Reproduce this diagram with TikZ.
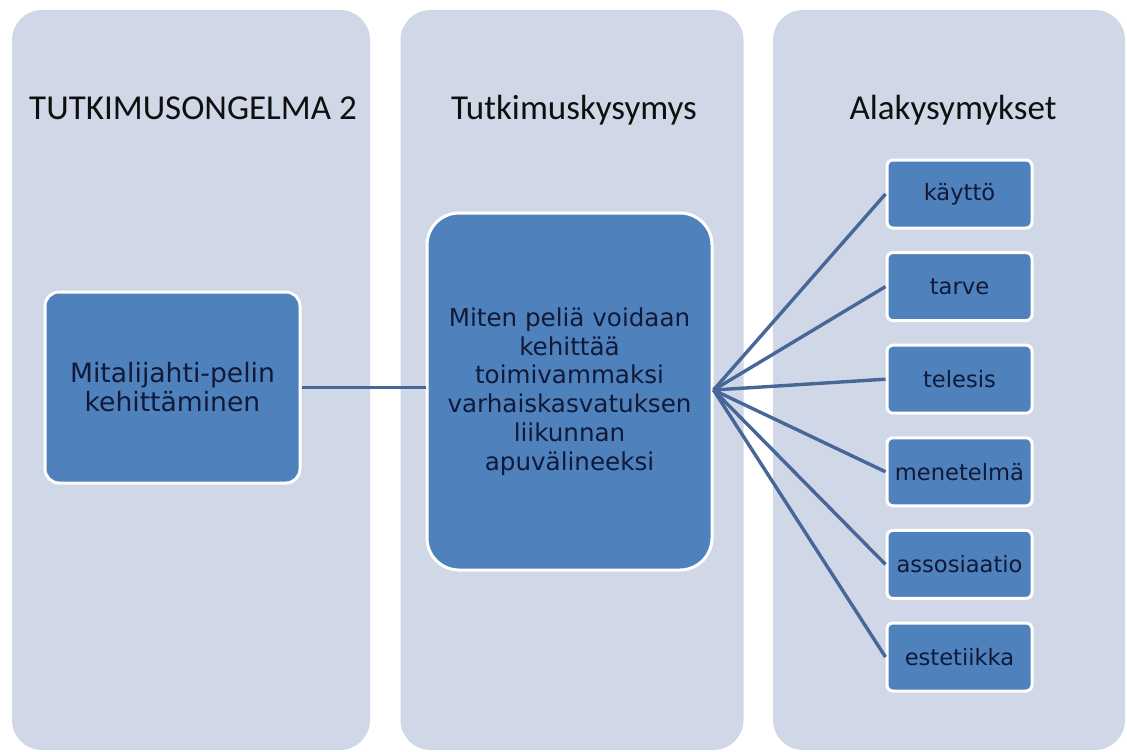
\documentclass[tikz,border=0pt]{standalone}
\usepackage{fontspec}
\setmainfont{DejaVu Sans}
\newfontfamily\headfont{Carlito}
\definecolor{panelbg}{RGB}{208,216,232}
\definecolor{boxfill}{RGB}{79,129,189}
\definecolor{linkcol}{RGB}{70,103,152}
\definecolor{boxtext}{RGB}{16,26,56}
\definecolor{headtext}{RGB}{15,15,15}
\tikzset{
  panel/.style={fill=panelbg, draw=none, rounded corners=30pt, inner sep=0pt},
  head/.style={font=\headfont\fontsize{35}{40}\selectfont, text=headtext, anchor=base, inner sep=0pt},
  bluebox/.style={fill=boxfill, draw=white, line width=3pt, text=boxtext, align=center, inner sep=0pt},
  subbox/.style={bluebox, rounded corners=6pt, minimum width=145pt, minimum height=68pt,
    font=\fontsize{22.6}{26}\selectfont},
  link/.style={draw=linkcol, line width=3.4pt}
}
\begin{document}
\begin{tikzpicture}[x=1pt,y=-1pt]
\useasboundingbox (0,0) rectangle (1127,752);
\fill[white] (0,0) rectangle (1127,752);

% three background panels
\node[panel, minimum width=358pt, minimum height=740pt] (p1) at (191,380) {};
\node[panel, minimum width=343pt, minimum height=740pt] (p2) at (572,380) {};
\node[panel, minimum width=352pt, minimum height=740pt] (p3) at (949,380) {};

% panel headings
\node[head] (h1) at (193,119) {TUTKIMUSONGELMA 2};
\node[head] (h2) at (574,119) {Tutkimuskysymys};
\node[head] (h3) at (953,119) {Alakysymykset};

% main boxes
\node[bluebox, rounded corners=14pt, minimum width=255pt, minimum height=191pt,
  font=\fontsize{26.6}{29}\selectfont] (prob) at (172.5,387.5)
  {Mitalijahti-pelin\\kehittäminen};
\node[bluebox, rounded corners=32pt, minimum width=285pt, minimum height=357pt,
  font=\fontsize{24.6}{28.7}\selectfont] (quest) at (569.5,391.5)
  {Miten peliä voidaan\\kehittää\\toimivammaksi\\varhaiskasvatuksen\\liikunnan\\apuvälineeksi};

% sub-question boxes
\node[subbox] (s1) at (959.5,194) {käyttö};
\node[subbox] (s2) at (959.5,286.6) {tarve};
\node[subbox] (s3) at (959.5,379.2) {telesis};
\node[subbox] (s4) at (959.5,471.8) {menetelmä};
\node[subbox] (s5) at (959.5,564.4) {assosiaatio};
\node[subbox] (s6) at (959.5,657) {estetiikka};

% connectors
\draw[link] (prob.east) -- (prob.east -| quest.west);
\coordinate (hub) at ([yshift=1.5pt]quest.east);
\foreach \s in {s1,s2,s3,s4,s5,s6}
  \draw[link] (hub) -- (\s.west);
\end{tikzpicture}
\end{document}
